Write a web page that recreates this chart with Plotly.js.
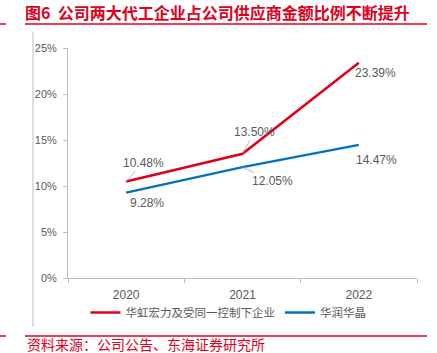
<!DOCTYPE html>
<html><head><meta charset="utf-8">
<script src="https://cdn.plot.ly/plotly-3.0.1.min.js"></script>
<style>body{margin:0;padding:0;background:#fff}#c{width:437px;height:353px}</style>
</head><body><div id="c"></div>
<script>
const years = ['2020', '2021', '2022'];
const seriesNames = ['华虹宏力及受同一控制下企业', '华润华晶'];
const hhValues = [10.48, 13.50, 23.39];
const hrValues = [9.28, 12.05, 14.47];
const yTickVals = [0, 5, 10, 15, 20, 25];
const yTickText = ['0%', '5%', '10%', '15%', '20%', '25%'];
const titleText = '图6  公司两大代工企业占公司供应商金额比例不断提升';
const sourceText = '资料来源：公司公告、东海证券研究所';

const RED = '#E0001B', BLUE = '#0070C0', GREY = '#595959';
const fmt = v => v.toFixed(2) + '%';

const traces = [
  {x: years, y: hhValues, name: seriesNames[0], type: 'scatter', mode: 'lines',
   line: {color: RED, width: 2.5}},
  {x: years, y: hrValues, name: seriesNames[1], type: 'scatter', mode: 'lines',
   line: {color: BLUE, width: 2.5}}
];

// label offsets (pixels) per point: [ax, ay, leader]
const hhOff = [[17, -19, true], [12, -22, true], [17, 10, false]];
const hrOff = [[21, 10, false], [30, 14, true], [18, 15, false]];
const ann = [];
function addLabels(vals, offs) {
  vals.forEach((v, i) => {
    const [ax, ay, arrow] = offs[i];
    ann.push({x: i, y: v, xref: 'x', yref: 'y', text: fmt(v),
      showarrow: true, arrowhead: 0, arrowwidth: 0.8, arrowcolor: arrow ? '#A6A6A6' : 'rgba(255,255,255,0)',
      ax: ax, ay: ay,
      font: {family: 'Liberation Sans, Arial, sans-serif', size: 12, color: GREY}});
  });
}
addLabels(hhValues, hhOff);
addLabels(hrValues, hrOff);
ann.push({xref: 'paper', yref: 'paper', x: (25 - 68) / 349, y: (278 - 344) / 230,
  xanchor: 'left', yanchor: 'middle', text: sourceText, showarrow: false,
  font: {family: 'Noto Sans CJK SC, sans-serif', size: 14, color: RED}});

const px = v => (v - 68) / 349, py = v => (278 - v) / 230;
const layout = {
  width: 437, height: 353,
  margin: {l: 68, r: 20, t: 48, b: 75},
  paper_bgcolor: '#fff', plot_bgcolor: '#fff',
  title: {text: '<b>' + titleText + '</b>', xref: 'container', yref: 'container',
    x: 25 / 437, xanchor: 'left', y: 1 - 13 / 353, yanchor: 'middle',
    font: {family: 'Noto Sans CJK SC, sans-serif', size: 16, color: RED}},
  xaxis: {type: 'category', range: [-0.5, 2.5], showgrid: false, showline: true,
    linecolor: '#BFBFBF', linewidth: 1, ticks: 'outside', tickson: 'boundaries',
    ticklen: 4, tickcolor: '#BFBFBF', ticklabelstandoff: 6,
    tickfont: {family: 'Liberation Sans, Arial, sans-serif', size: 12, color: GREY}},
  yaxis: {range: [0, 25], tickvals: yTickVals, ticktext: yTickText, showgrid: false,
    showline: true, linecolor: '#BFBFBF', linewidth: 1, ticks: 'outside', ticklen: 4,
    tickcolor: '#BFBFBF', zeroline: false, ticklabelstandoff: 4,
    tickfont: {family: 'Liberation Sans, Arial, sans-serif', size: 11, color: GREY}},
  showlegend: true,
  legend: {orientation: 'h', x: 0.05, y: -0.15, xanchor: 'left', yanchor: 'middle',
    bgcolor: 'rgba(0,0,0,0)',
    font: {family: 'Noto Sans CJK SC, sans-serif', size: 11.5, color: GREY},
    itemwidth: 30, tracegroupgap: 0},
  annotations: ann,
  shapes: [
    {type: 'line', xref: 'paper', yref: 'paper', x0: px(33), x1: px(33), y0: py(32), y1: py(327),
      line: {color: '#BFBFBF', width: 1}},
    {type: 'line', xref: 'paper', yref: 'paper', x0: px(25), x1: px(427), y0: py(24), y1: py(24),
      line: {color: RED, width: 1.5}},
    {type: 'line', xref: 'paper', yref: 'paper', x0: px(0), x1: px(6), y0: py(24), y1: py(24),
      line: {color: RED, width: 1.5}},
    {type: 'line', xref: 'paper', yref: 'paper', x0: px(25), x1: px(427), y0: py(336), y1: py(336),
      line: {color: RED, width: 1.5}},
    {type: 'line', xref: 'paper', yref: 'paper', x0: px(0), x1: px(6), y0: py(336), y1: py(336),
      line: {color: RED, width: 1.5}}
  ]
};
Plotly.newPlot('c', traces, layout, {staticPlot: true, displayModeBar: false});
</script></body></html>
